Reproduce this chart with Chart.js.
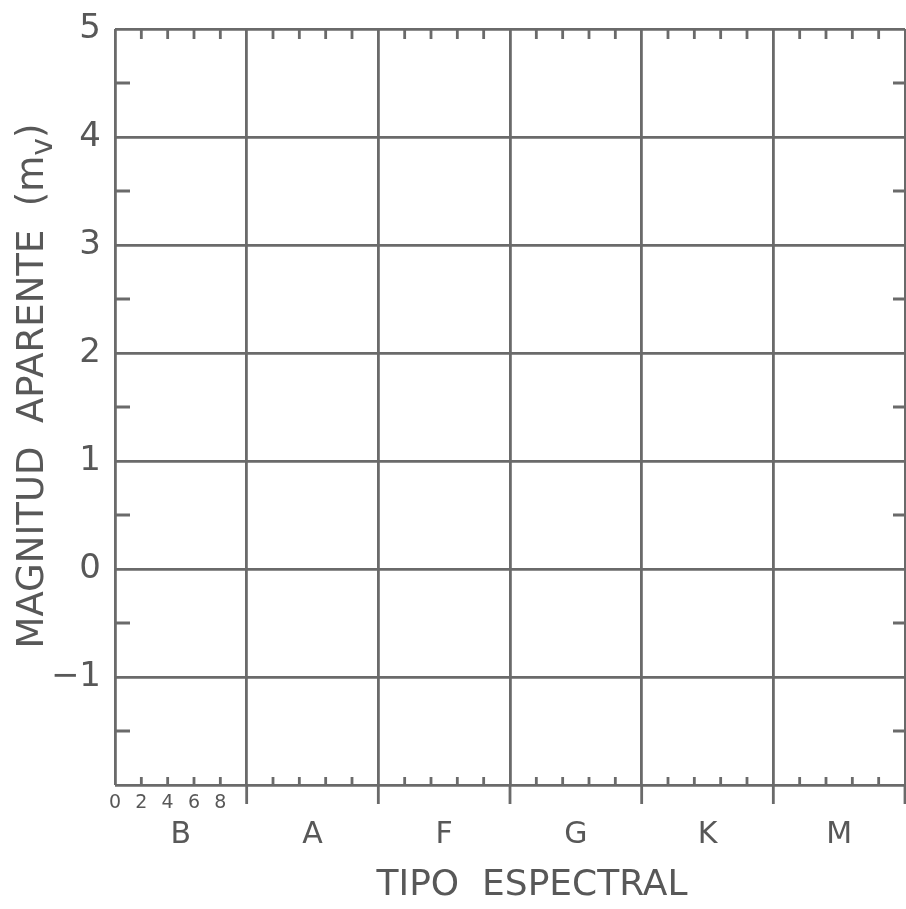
<!DOCTYPE html>
<html>
<head>
<meta charset="utf-8">
<title>Tipo espectral – magnitud aparente</title>
<script src="https://cdn.jsdelivr.net/npm/chart.js@4/dist/chart.umd.min.js"></script>
<style>
  html, body { margin: 0; padding: 0; background: #ffffff; }
  canvas { display: block; }
</style>
</head>
<body>
<canvas id="hr" width="906" height="909"></canvas>
<script>
// Spectral classes along the horizontal axis, ten subtypes per class
const spectralClasses = ['B', 'A', 'F', 'G', 'K', 'M'];
const subtypesPerClass = 10;
const subtypeStep = 2;
const subtypeLabels = [0, 2, 4, 6, 8];

// Apparent magnitude axis
const magnitudeMin = -2;
const magnitudeMax = 5;
const magnitudeLabels = [5, 4, 3, 2, 1, 0, -1];

const xTitle = 'TIPO  ESPECTRAL';
const yTitleMain = 'MAGNITUD  APARENTE  (m';
const yTitleSub = 'v';
const yTitleEnd = ')';

const LINE = '#6a6a6a';
const TEXT = '#585858';
const FONT = '"DejaVu Sans", sans-serif';
const LW = 2.8;

const xMax = spectralClasses.length * subtypesPerClass;

function range(start, stop, step) {
  const out = [];
  for (let v = start; v <= stop + 1e-9; v += step) out.push(Math.round(v * 100) / 100);
  return out;
}

// keep the plot area fixed: no extra room reserved for edge labels
function fixedSize(prop, size) {
  return s => {
    s[prop] = size;
    s.paddingTop = s.paddingBottom = s.paddingLeft = s.paddingRight = 0;
  };
}

// Inner tick marks, class separators below the axis, and rotated axis titles
const framePlugin = {
  id: 'frameMarks',
  afterDraw(chart) {
    const { ctx, chartArea: a, scales } = chart;
    const xs = scales.x, ys = scales.y;
    ctx.save();
    ctx.strokeStyle = LINE;
    ctx.lineWidth = LW;
    ctx.lineCap = 'butt';
    ctx.beginPath();
    range(0, xMax, subtypeStep).forEach(v => {
      if (v % subtypesPerClass === 0) return;
      const px = xs.getPixelForValue(v);
      ctx.moveTo(px, a.top); ctx.lineTo(px, a.top + 10);
      ctx.moveTo(px, a.bottom); ctx.lineTo(px, a.bottom - 8);
    });
    range(subtypesPerClass, xMax, subtypesPerClass).forEach(v => {
      const px = xs.getPixelForValue(v);
      ctx.moveTo(px, a.bottom); ctx.lineTo(px, a.bottom + 19);
    });
    range(magnitudeMin + 0.5, magnitudeMax - 0.5, 1).forEach(v => {
      const py = ys.getPixelForValue(v);
      ctx.moveTo(a.left, py); ctx.lineTo(a.left + 15, py);
      ctx.moveTo(a.right, py); ctx.lineTo(a.right - 12, py);
    });
    ctx.stroke();

    // horizontal axis title
    ctx.fillStyle = TEXT;
    ctx.font = '36px ' + FONT;
    ctx.textAlign = 'center';
    ctx.textBaseline = 'alphabetic';
    ctx.fillText(xTitle, xs.getPixelForValue(xMax / 2) + 22, 895);

    // vertical axis title with subscript
    const big = '37px ' + FONT, small = '30px ' + FONT;
    ctx.font = big;
    const w1 = ctx.measureText(yTitleMain).width;
    const w3 = ctx.measureText(yTitleEnd).width;
    ctx.font = small;
    const w2 = ctx.measureText(yTitleSub).width;
    const total = w1 + w2 + w3;
    ctx.translate(43, 386);
    ctx.rotate(-Math.PI / 2);
    ctx.textAlign = 'left';
    const x0 = -total / 2;
    ctx.font = big;
    ctx.fillText(yTitleMain, x0, 0);
    ctx.font = small;
    ctx.fillText(yTitleSub, x0 + w1, 9);
    ctx.font = big;
    ctx.fillText(yTitleEnd, x0 + w1 + w2, 0);
    ctx.restore();
  }
};

new Chart(document.getElementById('hr'), {
  type: 'scatter',
  data: { datasets: [{ data: [], pointRadius: 0 }] },
  options: {
    responsive: false,
    animation: false,
    layout: { padding: { top: 29, right: 1, bottom: 0, left: 0 } },
    plugins: { legend: { display: false }, tooltip: { enabled: false } },
    scales: {
      x: {
        type: 'linear', position: 'bottom', weight: 0,
        min: 0, max: xMax,
        afterBuildTicks: s => { s.ticks = range(0, xMax, subtypeStep).map(v => ({ value: v })); },
        afterFit: fixedSize('height', 30),
        border: { display: false },
        grid: {
          drawTicks: false,
          lineWidth: LW,
          color: c => (c.tick && c.tick.value % subtypesPerClass === 0) ? LINE : 'rgba(0,0,0,0)'
        },
        ticks: {
          autoSkip: false, maxRotation: 0, padding: 7, color: TEXT,
          font: { family: FONT, size: 19 },
          callback: v => subtypeLabels.includes(v) ? String(v) : ''
        }
      },
      xc: {
        type: 'linear', position: 'bottom', weight: 1,
        min: 0, max: xMax,
        afterBuildTicks: s => {
          s.ticks = spectralClasses.map((c, i) => ({ value: i * subtypesPerClass + subtypesPerClass / 2 }));
        },
        afterFit: fixedSize('height', 94),
        border: { display: false },
        grid: { display: false, drawTicks: false },
        ticks: {
          autoSkip: false, maxRotation: 0, padding: 2, color: TEXT,
          font: { family: FONT, size: 30 },
          callback: v => spectralClasses[Math.round((v - subtypesPerClass / 2) / subtypesPerClass)]
        }
      },
      y: {
        type: 'linear', position: 'left',
        min: magnitudeMin, max: magnitudeMax,
        afterBuildTicks: s => { s.ticks = range(magnitudeMin, magnitudeMax, 1).map(v => ({ value: v })); },
        afterFit: fixedSize('width', 115),
        border: { display: false },
        grid: { drawTicks: false, lineWidth: LW, color: LINE },
        ticks: {
          padding: 14, color: TEXT,
          font: { family: FONT, size: 34 },
          callback: v => magnitudeLabels.includes(v) ? String(v).replace('-', '\u2212') : ''
        }
      }
    }
  },
  plugins: [framePlugin]
});
</script>
</body>
</html>
